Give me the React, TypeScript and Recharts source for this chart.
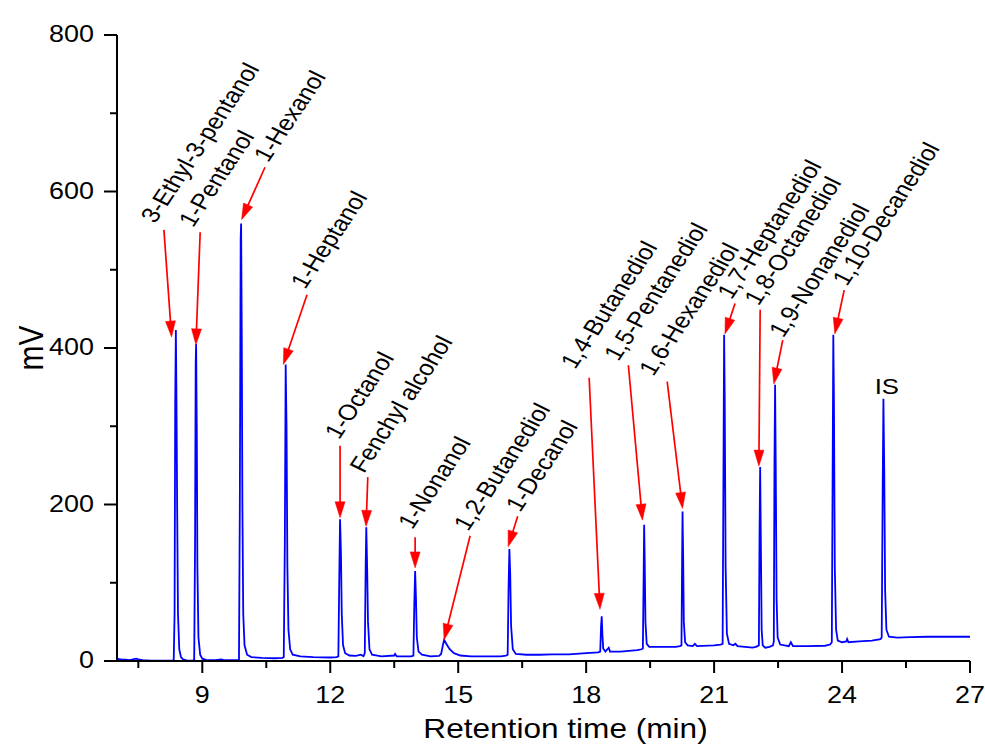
import React from 'react';
import { LineChart, Line, XAxis, YAxis, ReferenceLine, ReferenceDot, Label } from 'recharts';

// ---- chromatogram trace: [retention time (min), signal (mV)] ----
const baselineStart: [number, number][] = [
  [7.0, 3.5], [7.05, 2.5], [7.1, 2.0], [7.2, 1.8], [7.3, 1.2], [7.4, 2.5], [7.45, 3.0], [7.5, 2.0],
  [7.6, 1.0], [7.8, 0.5], [8.0, 0.3], [8.2, 0.3], [8.3, 0.5],
];
const alcoholPeaks: [number, number][] = [
  [8.33, 1], [8.35, 60], [8.365, 330], [8.38, 423], [8.395, 330], [8.41, 200], [8.43, 60], [8.46, 15],
  [8.5, 5], [8.55, 2], [8.65, 0.5], [8.78, 0.5],
  [8.81, 2], [8.83, 150], [8.845, 380], [8.855, 405], [8.87, 300], [8.885, 120], [8.91, 30], [8.95, 8],
  [9.0, 3], [9.1, 1], [9.3, 1], [9.45, 2], [9.5, 1], [9.8, 1],
  [9.86, 1.5], [9.88, 200], [9.9, 540], [9.91, 559], [9.925, 420], [9.94, 200], [9.96, 60], [9.99, 20],
  [10.05, 8], [10.15, 5], [10.4, 4], [10.7, 3.5], [10.88, 4],
  [10.91, 5], [10.935, 150], [10.955, 379], [10.975, 300], [10.995, 120], [11.02, 40], [11.06, 15],
  [11.12, 8], [11.3, 6], [11.6, 5], [12.0, 4.5], [12.15, 5],
  [12.19, 6], [12.21, 100], [12.23, 181], [12.25, 140], [12.27, 60], [12.3, 20], [12.35, 10],
  [12.45, 7], [12.6, 6.5], [12.72, 8], [12.78, 6],
  [12.81, 10], [12.83, 120], [12.845, 171], [12.865, 120], [12.885, 50], [12.92, 15], [12.98, 8],
  [13.2, 6], [13.5, 7], [13.52, 9], [13.56, 6], [13.9, 6],
  [13.95, 7], [13.97, 70], [13.99, 115], [14.01, 80], [14.03, 30], [14.07, 12], [14.15, 8],
  [14.35, 6], [14.55, 6.5],
  [14.6, 9], [14.64, 20], [14.67, 27], [14.72, 22], [14.8, 15], [14.9, 10], [15.05, 7], [15.3, 6],
  [15.6, 6], [16.0, 6], [16.12, 7],
  [16.16, 8], [16.18, 90], [16.2, 143], [16.22, 110], [16.24, 45], [16.28, 15], [16.35, 9],
  [16.6, 8], [16.9, 8], [17.2, 8.5], [17.6, 8.5], [18.0, 10], [18.28, 11],
];
const diolPeaks: [number, number][] = [
  [18.33, 12], [18.35, 45], [18.365, 57], [18.38, 35], [18.4, 16], [18.45, 12], [18.53, 17], [18.56, 12],
  [18.8, 12], [19.0, 13], [19.2, 14], [19.3, 15],
  [19.33, 16], [19.35, 120], [19.36, 174], [19.375, 120], [19.39, 50], [19.42, 22], [19.48, 18],
  [19.8, 18], [20.1, 18], [20.2, 19],
  [20.235, 20], [20.25, 130], [20.26, 191], [20.275, 130], [20.29, 50], [20.32, 24], [20.38, 20],
  [20.5, 19], [20.55, 22], [20.6, 19], [21.0, 20], [21.15, 21],
  [21.2, 22], [21.22, 250], [21.235, 417], [21.25, 330], [21.27, 120], [21.3, 35], [21.35, 22],
  [21.45, 20], [21.5, 22], [21.55, 19], [21.9, 17], [21.98, 18],
  [22.05, 20], [22.065, 160], [22.08, 248], [22.095, 160], [22.115, 40], [22.14, 20], [22.2, 17],
  [22.3, 18], [22.38, 20],
  [22.4, 25], [22.415, 250], [22.43, 353], [22.445, 250], [22.465, 80], [22.49, 30], [22.55, 21],
  [22.75, 19], [22.8, 24], [22.85, 19], [23.2, 19], [23.6, 19.5], [23.72, 21],
  [23.76, 24], [23.78, 250], [23.795, 417], [23.81, 330], [23.83, 120], [23.86, 40], [23.9, 26],
  [24.0, 24], [24.1, 25], [24.12, 28], [24.15, 24], [24.4, 25], [24.7, 26], [24.9, 28],
  [24.93, 30], [24.95, 200], [24.97, 335], [24.99, 240], [25.01, 90], [25.04, 40], [25.1, 31],
  [25.3, 30], [25.6, 30.5], [26.0, 31], [26.5, 31], [27.0, 31],
];

// ---- axes ----
const xMajorTicks = [9, 12, 15, 18, 21, 24, 27];
const xMinorTicks = [7.5, 10.5, 13.5, 16.5, 19.5, 22.5, 25.5];
const yMajorTicks = [0, 200, 400, 600, 800];
const yMinorTicks = [100, 300, 500, 700];
const xDomain: [number, number] = [7, 27];
const yDomain: [number, number] = [0, 800];

// ---- peak annotations ----
const peakNames = [
  '3-Ethyl-3-pentanol', '1-Pentanol', '1-Hexanol', '1-Heptanol', '1-Octanol', 'Fenchyl alcohol',
  '1-Nonanol', '1,2-Butanediol', '1-Decanol', '1,4-Butanediol', '1,5-Pentanediol', '1,6-Hexanediol',
  '1,7-Heptanediol', '1,8-Octanediol', '1,9-Nonanediol', '1,10-Decanediol',
];
const arrowTails: [number, number][] = [
  [8.1, 551], [8.95, 548], [10.47, 631], [11.455, 468], [12.23, 275], [12.88, 235],
  [13.99, 158], [15.28, 160], [16.395, 185], [18.07, 362], [18.99, 378], [19.9, 357],
  [21.49, 457], [22.08, 449], [22.61, 410], [24.05, 474],
];
const arrowTips: [number, number][] = [
  [8.28, 414], [8.85, 404], [9.92, 564], [10.9, 379], [12.23, 183], [12.84, 172],
  [13.99, 119], [14.67, 27], [16.17, 146], [18.325, 66], [19.32, 180], [20.26, 195],
  [21.255, 418], [22.05, 249], [22.4, 354], [23.83, 418],
];
const labelAnchors: [number, number][] = [
  [7.89, 558], [8.78, 553], [10.54, 636], [11.41, 474], [12.205, 282], [12.79, 239],
  [13.92, 167], [15.23, 165], [16.45, 189], [17.74, 372], [18.755, 382], [19.575, 363],
  [21.41, 461], [22.04, 453], [22.62, 412], [24.11, 478],
];
const standardLabel = 'IS';
const standardLabelAt: [number, number] = [25.05, 341];

const xTitle = 'Retention time (min)';
const yTitle = 'mV';

const trace = [...baselineStart, ...alcoholPeaks, ...diolPeaks].map(([t, v]) => ({ t, mV: v }));
const xTicks = [...xMinorTicks, ...xMajorTicks].sort((a, b) => a - b);
const yTicks = [...yMinorTicks, ...yMajorTicks].sort((a, b) => a - b);

const FONT = '"Liberation Sans", Arial, Helvetica, sans-serif';
const SX = 1.17;

function StretchText(props: { x: number; y: number; angle?: number; anchor?: string; size: number; children: React.ReactNode }) {
  const { x, y, angle = 0, anchor = 'start', size, children } = props;
  return (
    <text
      transform={`translate(${x},${y}) scale(${SX},1) rotate(${angle})`}
      textAnchor={anchor as any}
      fontSize={size}
      fontFamily={FONT}
      fill="#000"
    >
      {children}
    </text>
  );
}

const XTick = (p: any) => {
  const { x, y, payload } = p;
  const major = xMajorTicks.includes(payload.value);
  return (
    <g>
      <line x1={x} x2={x} y1={y} y2={y + (major ? 12 : 7)} stroke="#000" strokeWidth={2} />
      {major && (
        <StretchText x={x} y={y + 42} anchor="middle" size={23}>
          {String(payload.value)}
        </StretchText>
      )}
    </g>
  );
};

const YTick = (p: any) => {
  const { x, y, payload } = p;
  const major = yMajorTicks.includes(payload.value);
  return (
    <g>
      <line x1={x} x2={x - (major ? 13 : 7)} y1={y} y2={y} stroke="#000" strokeWidth={2} />
      {major && (
        <StretchText x={x - 23} y={y + 7} anchor="end" size={23}>
          {String(payload.value)}
        </StretchText>
      )}
    </g>
  );
};

const arrowShape = (p: any) => {
  const { x1, y1, x2, y2 } = p;
  const dx = x2 - x1;
  const dy = y2 - y1;
  const len = Math.sqrt(dx * dx + dy * dy) || 1;
  const ux = dx / len;
  const uy = dy / len;
  const headLen = 16;
  const headHalf = 5;
  const bx = x2 - ux * headLen;
  const by = y2 - uy * headLen;
  const pts = `${x2},${y2} ${bx - uy * headHalf},${by + ux * headHalf} ${bx + uy * headHalf},${by - ux * headHalf}`;
  return (
    <g>
      <line x1={x1} y1={y1} x2={bx + ux * 2} y2={by + uy * 2} stroke="#ff0000" strokeWidth={1.7} />
      <polygon points={pts} fill="#ff0000" stroke="#ff0000" strokeWidth={0.5} />
    </g>
  );
};

const makeLabelShape = (name: string) => (p: any) => (
  <StretchText x={p.cx} y={p.cy} angle={-60} size={22}>
    {name}
  </StretchText>
);

const isShape = (p: any) => (
  <StretchText x={p.cx} y={p.cy} anchor="middle" size={22}>
    {standardLabel}
  </StretchText>
);

export default function App() {
  return (
    <div style={{ position: 'absolute', left: 0, top: 0, width: 985, height: 746, background: '#fff' }}>
      <LineChart
        width={985}
        height={746}
        data={trace}
        margin={{ top: 35, right: 15, bottom: 35, left: 57 }}
      >
        <XAxis
          type="number"
          dataKey="t"
          domain={xDomain}
          ticks={xTicks}
          interval={0}
          tickSize={0}
          tickMargin={0}
          tickLine={false}
          tick={XTick}
          axisLine={{ stroke: '#000', strokeWidth: 2 }}
          height={50}
          allowDataOverflow
        >
          <Label
            content={(lp: any) => {
              const vb = lp.viewBox || { x: 117, y: 661, width: 853, height: 50 };
              return (
                <StretchText x={vb.x + vb.width / 2 + 22} y={vb.y + 77} anchor="middle" size={27}>
                  {xTitle}
                </StretchText>
              );
            }}
          />
        </XAxis>
        <YAxis
          type="number"
          domain={yDomain}
          ticks={yTicks}
          interval={0}
          tickSize={0}
          tickMargin={0}
          tickLine={false}
          tick={YTick}
          axisLine={{ stroke: '#000', strokeWidth: 2 }}
          width={60}
          allowDataOverflow
        >
          <Label
            content={(lp: any) => {
              const vb = lp.viewBox || { x: 57, y: 35, width: 60, height: 626 };
              return (
                <StretchText x={vb.x - 14} y={vb.y + vb.height / 2} angle={-90} anchor="middle" size={30}>
                  {yTitle}
                </StretchText>
              );
            }}
          />
        </YAxis>
        <Line
          type="linear"
          dataKey="mV"
          stroke="#0000ff"
          strokeWidth={1.8}
          dot={false}
          activeDot={false}
          isAnimationActive={false}
        />
        {peakNames.map((name, i) => (
          <ReferenceLine
            key={`arrow-${i}`}
            segment={[
              { x: arrowTails[i][0], y: arrowTails[i][1] },
              { x: arrowTips[i][0], y: arrowTips[i][1] },
            ]}
            ifOverflow="visible"
            shape={arrowShape}
          />
        ))}
        {peakNames.map((name, i) => (
          <ReferenceDot
            key={`label-${i}`}
            x={labelAnchors[i][0]}
            y={labelAnchors[i][1]}
            ifOverflow="visible"
            shape={makeLabelShape(name)}
          />
        ))}
        <ReferenceDot x={standardLabelAt[0]} y={standardLabelAt[1]} ifOverflow="visible" shape={isShape} />
      </LineChart>
    </div>
  );
}
